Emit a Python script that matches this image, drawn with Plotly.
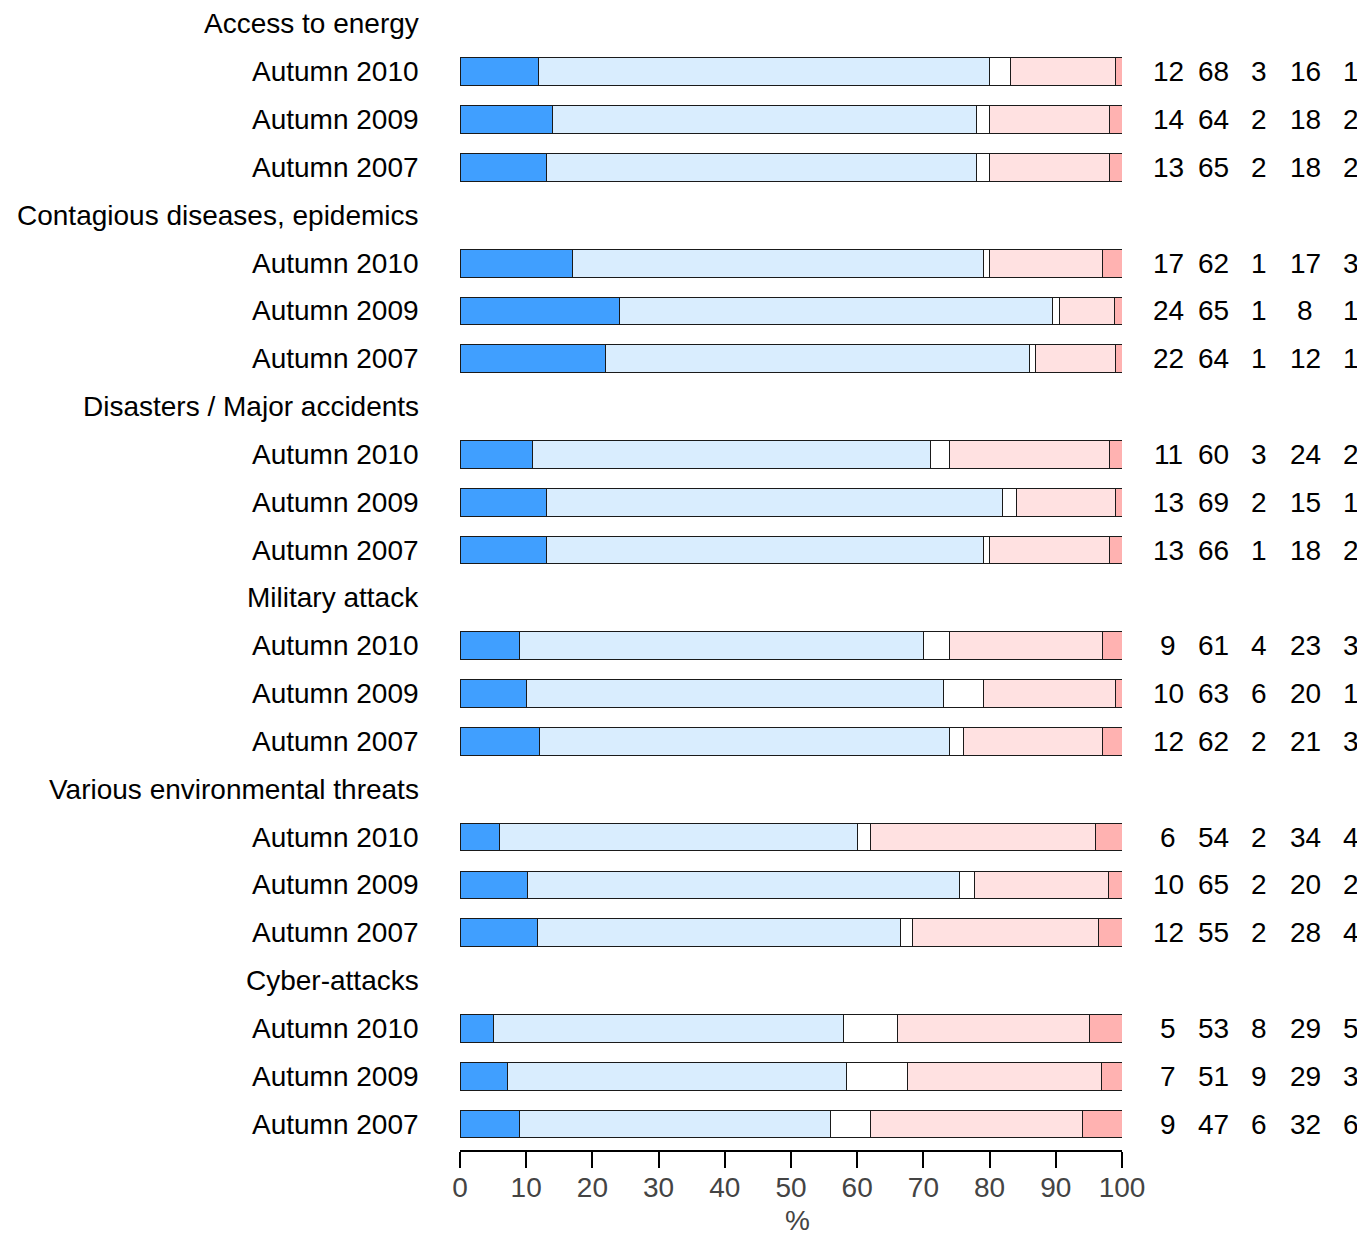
import plotly.graph_objects as go

# Survey groups and the three waves shown for each
groups = [
    "Access to energy",
    "Contagious diseases, epidemics",
    "Disasters / Major accidents",
    "Military attack",
    "Various environmental threats",
    "Cyber-attacks",
]
waves = ["Autumn 2010", "Autumn 2009", "Autumn 2007"]

# Bar segment shares (%), group-major order
very_pos = [11.9, 14.0, 13.0, 17.0, 24.1, 22.0, 11.0, 13.0, 13.0,
            9.0, 10.0, 12.0, 6.0, 10.2, 11.7, 5.0, 7.2, 9.0]
fairly_pos = [68.1, 64.0, 65.0, 62.1, 65.4, 64.0, 60.0, 69.0, 66.1,
              61.0, 63.0, 62.0, 54.0, 65.3, 54.9, 53.0, 51.2, 47.0]
dont_know = [3.1, 2.0, 2.0, 0.9, 1.1, 1.0, 3.0, 2.0, 0.9,
             4.0, 6.1, 2.0, 2.0, 2.2, 1.8, 8.1, 9.2, 6.0]
fairly_neg = [15.9, 18.1, 18.1, 17.1, 8.3, 12.0, 24.1, 15.0, 18.1,
              23.1, 19.9, 21.1, 34.0, 20.2, 28.0, 29.0, 29.3, 32.0]
very_neg = [1.0, 1.9, 1.9, 2.9, 1.1, 1.0, 1.9, 1.0, 1.9,
            2.9, 1.0, 2.9, 4.0, 2.1, 3.6, 4.9, 3.1, 6.0]

# Rounded figures printed to the right of each bar
lbl_very_pos = [12, 14, 13, 17, 24, 22, 11, 13, 13, 9, 10, 12, 6, 10, 12, 5, 7, 9]
lbl_fairly_pos = [68, 64, 65, 62, 65, 64, 60, 69, 66, 61, 63, 62, 54, 65, 55, 53, 51, 47]
lbl_dont_know = [3, 2, 2, 1, 1, 1, 3, 2, 1, 4, 6, 2, 2, 2, 2, 8, 9, 6]
lbl_fairly_neg = [16, 18, 18, 17, 8, 12, 24, 15, 18, 23, 20, 21, 34, 20, 28, 29, 29, 32]
lbl_very_neg = [1, 2, 2, 3, 1, 1, 2, 1, 2, 3, 1, 3, 4, 2, 4, 5, 3, 6]

series = [
    ("Very positive", very_pos, "#409FFF"),
    ("Fairly positive", fairly_pos, "#D9EDFE"),
    ("Don't know", dont_know, "#FFFFFF"),
    ("Fairly negative", fairly_neg, "#FFE1E1"),
    ("Very negative", very_neg, "#FFB2B1"),
]
label_cols = [lbl_very_pos, lbl_fairly_pos, lbl_dont_know, lbl_fairly_neg, lbl_very_neg]

FONT = "Liberation Sans, Arial, sans-serif"
FS = 28

# each group takes 4 rows: header + three waves; row i sits at y = -i
bar_y = []
for g in range(len(groups)):
    for w in range(len(waves)):
        bar_y.append(-(4 * g + 1 + w))

fig = go.Figure()
for name, vals, color in series:
    fig.add_trace(go.Bar(
        x=vals, y=bar_y, orientation="h", name=name,
        width=0.58, marker=dict(color=color, line=dict(color="#1a1a1a", width=1)),
        showlegend=False, hoverinfo="x+name",
    ))

annotations = []
# left side labels (group headers and waves), right-aligned
LX = -0.059
for g, gname in enumerate(groups):
    annotations.append(dict(x=LX, y=-4 * g, xref="paper", yref="y", text=gname,
                            xanchor="right", yanchor="middle", showarrow=False))
    for w, wname in enumerate(waves):
        annotations.append(dict(x=LX, y=-(4 * g + 1 + w), xref="paper", yref="y",
                                text=wname, xanchor="right", yanchor="middle", showarrow=False))

# numbers to the right of the bars
col_x = [1.0695, 1.1375, 1.207, 1.2765, 1.346]
for cx, col in zip(col_x, label_cols):
    for yy, v in zip(bar_y, col):
        annotations.append(dict(x=cx, y=yy, xref="paper", yref="y", text=str(v),
                                xanchor="center", yanchor="middle", showarrow=False))

# axis title "%"
annotations.append(dict(x=0.51, y=0, xref="paper", yref="paper", text="%",
                        yshift=-70, xanchor="center", yanchor="middle", showarrow=False,
                        font=dict(size=FS, color="#444444")))

fig.update_layout(
    barmode="stack",
    width=1357, height=1228,
    margin=dict(l=452, r=243, t=0, b=86),
    paper_bgcolor="white", plot_bgcolor="white",
    font=dict(family=FONT, size=FS, color="black"),
    annotations=annotations,
    xaxis=dict(
        range=[0, 100], tickvals=list(range(0, 101, 10)),
        showline=True, linecolor="black", linewidth=1.5,
        ticks="outside", ticklen=16, tickcolor="black", tickwidth=1.5,
        ticklabelstandoff=-4,
        showgrid=False, zeroline=False,
        tickfont=dict(size=FS, color="#444444"),
    ),
    yaxis=dict(range=[-23.542, 0.334], visible=False, showgrid=False, zeroline=False),
)

fig.write_html("out.html")
